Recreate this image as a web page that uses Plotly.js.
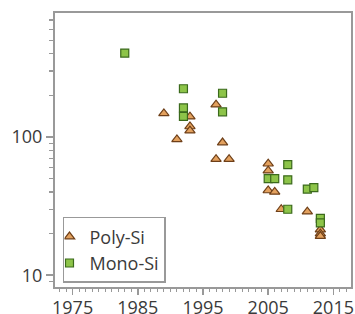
<!DOCTYPE html>
<html>
<head>
<meta charset="utf-8">
<script src="https://cdn.plot.ly/plotly-3.0.1.min.js"></script>
<style>html,body{margin:0;padding:0;background:#fff;}#chart{width:355px;height:314px;}</style>
</head>
<body>
<div id="chart"></div>
<script>
const polyYears = [1989, 1991, 1993, 1993, 1993, 1997, 1997, 1998, 1999, 2005, 2005, 2005, 2006, 2007, 2011, 2013, 2013, 2013];
const polyValues = [148, 96, 140, 119, 111, 171, 69, 91, 69, 64, 57, 41, 40, 30, 28.8, 21.4, 20, 19.2];
const monoYears = [1983, 1992, 1992, 1992, 1998, 1998, 2005, 2006, 2008, 2008, 2008, 2011, 2012, 2013, 2013];
const monoValues = [404, 223, 162, 141, 207, 152, 50, 50, 63, 49, 30, 42, 43, 25.8, 23.9];
const xTickVals = [1975, 1985, 1995, 2005, 2015];
const yTickVals = [10, 100];
const yMinorVals = [9, 20, 30, 40, 50, 60, 70, 80, 90, 200, 300, 400, 500, 600, 700, 800];
const xMinorVals = [];
for (let yr = 1972; yr <= 2017; yr++) { if (!xTickVals.includes(yr)) xMinorVals.push(yr); }

const traces = [
  {x: polyYears, y: polyValues, name: 'Poly-Si', type: 'scatter', mode: 'markers',
   marker: {symbol: 'triangle-up', size: 9, color: '#e3a15e', line: {color: '#6e3f18', width: 1.2}}},
  {x: monoYears, y: monoValues, name: 'Mono-Si', type: 'scatter', mode: 'markers',
   marker: {symbol: 'square', size: 8, color: '#8dc449', line: {color: '#3b6a1c', width: 1.2}}}
];
const layout = {
  width: 355, height: 314,
  margin: {l: 55, r: 4, t: 13, b: 27},
  paper_bgcolor: '#fff', plot_bgcolor: '#fff',
  font: {family: 'Open Sans, sans-serif', size: 18, color: '#3a3a3a'},
  showlegend: true,
  legend: {x: 0.027, y: 0.015, xanchor: 'left', yanchor: 'bottom', bgcolor: '#fff',
           bordercolor: '#999', borderwidth: 1.5, font: {size: 18, color: '#3a3a3a'},
           tracegroupgap: 0, indentation: -15},
  xaxis: {range: [1972.3, 2017.7], tickvals: xTickVals, ticks: 'outside', ticklen: 6, tickwidth: 1.5,
          tickcolor: '#999', showgrid: false, zeroline: false, showline: true, linecolor: '#999', linewidth: 2,
          mirror: true, tickfont: {size: 18, color: '#3a3a3a'}, ticklabelstandoff: -3,
          minor: {tickvals: xMinorVals, ticks: 'outside', ticklen: 3, tickwidth: 1, tickcolor: '#999', showgrid: false}},
  yaxis: {type: 'log', range: [0.915, 2.896], tickvals: yTickVals, ticktext: ['10', '100'], ticks: 'outside',
          ticklen: 7, tickwidth: 1.5, tickcolor: '#999', showgrid: false, zeroline: false, showline: true,
          linecolor: '#999', linewidth: 2, mirror: true, tickfont: {size: 18, color: '#3a3a3a'},
          minor: {tickvals: yMinorVals, ticks: 'outside', ticklen: 4, tickwidth: 1.2, tickcolor: '#999', showgrid: false}}
};
Plotly.newPlot('chart', traces, layout, {displayModeBar: false, staticPlot: true});
</script>
</body>
</html>
